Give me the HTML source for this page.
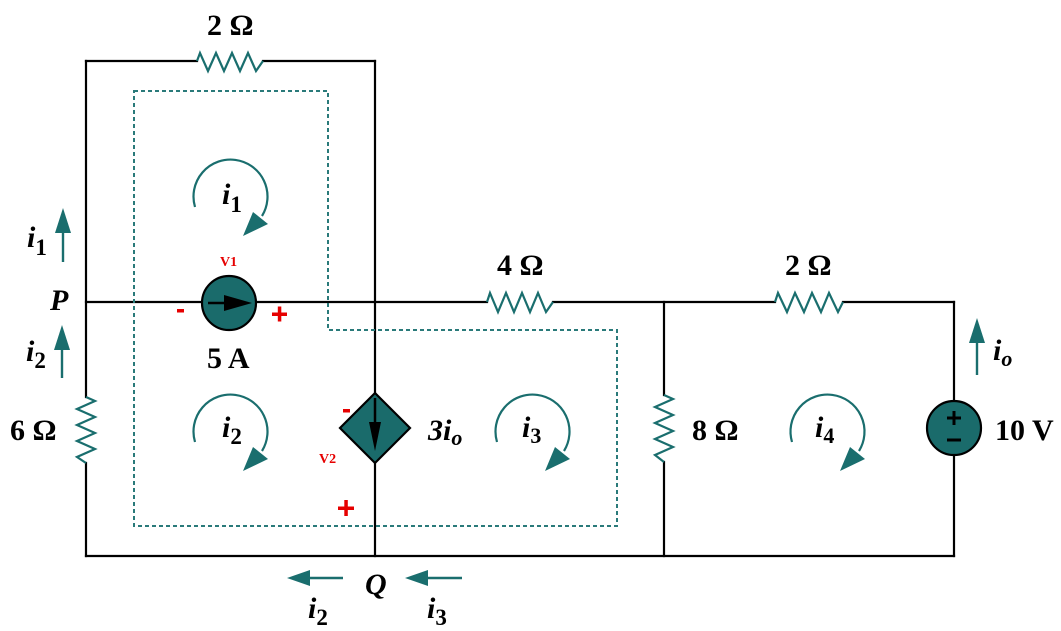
<!DOCTYPE html>
<html>
<head>
<meta charset="utf-8">
<style>
html,body{margin:0;padding:0;background:#fff;}
svg{display:block;}
text{font-family:"Liberation Serif",serif;font-weight:bold;}
</style>
</head>
<body>
<svg width="1061" height="631" viewBox="0 0 1061 631" xmlns="http://www.w3.org/2000/svg">
<!-- wires -->
<g stroke="#000" stroke-width="2.2" fill="none" stroke-linecap="square">
  <line x1="86" y1="61" x2="197" y2="61"/>
  <line x1="263" y1="61" x2="375" y2="61"/>
  <line x1="86" y1="61" x2="86" y2="397"/>
  <line x1="86" y1="463" x2="86" y2="556"/>
  <line x1="86" y1="302" x2="487" y2="302"/>
  <line x1="553" y1="302" x2="775" y2="302"/>
  <line x1="843" y1="302" x2="954" y2="302"/>
  <line x1="375" y1="61" x2="375" y2="393"/>
  <line x1="375" y1="463" x2="375" y2="556"/>
  <line x1="86" y1="556" x2="954" y2="556"/>
  <line x1="664" y1="302" x2="664" y2="395"/>
  <line x1="664" y1="462" x2="664" y2="556"/>
  <line x1="954" y1="302" x2="954" y2="556"/>
</g>
<!-- dotted supermesh -->
<path d="M134 91 H328 V330 H617 V526 H134 Z" fill="none" stroke="#2a7a7a" stroke-width="2" stroke-dasharray="4 3"/>
<!-- resistors -->
<g stroke="#1a6e6e" stroke-width="2.2" fill="none" stroke-linejoin="miter">
  <polyline points="197,61 200,53 208,71 216,53 224,71 232,53 240,71 248,53 256,71 263,61"/>
  <polyline points="487,302 490,293 498,312 506,293 514,312 522,293 530,312 538,293 546,312 553,302"/>
  <polyline points="775,302 778,293 787,312 795,293 804,312 812,293 821,312 829,293 838,312 843,302"/>
  <polyline points="86,397 95,401 77,409 95,417 77,425 95,433 77,441 95,449 77,457 86,463"/>
  <polyline points="664,395 673,399 655,407 673,415 655,423 673,431 655,439 673,447 655,455 664,462"/>
</g>
<!-- 5A source -->
<circle cx="229" cy="303" r="27" fill="#1a6b6b" stroke="#000" stroke-width="2.2"/>
<line x1="208" y1="303" x2="228" y2="303" stroke="#000" stroke-width="2.5"/>
<polygon points="224,295 252,303 224,311" fill="#000"/>
<!-- dependent source -->
<polygon points="375,393 410,428 375,463 340,428" fill="#1a6b6b" stroke="#000" stroke-width="2.2"/>
<line x1="375" y1="398" x2="375" y2="425" stroke="#000" stroke-width="2.5"/>
<polygon points="369,422 381,422 375,451" fill="#000"/>
<!-- 10V source -->
<circle cx="954" cy="428" r="27" fill="#1a6b6b" stroke="#000" stroke-width="2.2"/>
<line x1="947" y1="418" x2="961" y2="418" stroke="#000" stroke-width="3"/>
<line x1="954" y1="411" x2="954" y2="425" stroke="#000" stroke-width="3"/>
<line x1="947" y1="440" x2="961" y2="440" stroke="#000" stroke-width="3"/>
<!-- straight current arrows -->
<g stroke="#1a6e6e" stroke-width="2.4" fill="#1a6e6e">
  <line x1="63" y1="262" x2="63" y2="228"/>
  <polygon points="55,233 71,233 63,208" stroke="none"/>
  <line x1="62" y1="378" x2="62" y2="345"/>
  <polygon points="54,350 70,350 62,325" stroke="none"/>
  <line x1="977" y1="375" x2="977" y2="338"/>
  <polygon points="969,343 985,343 977,318" stroke="none"/>
  <line x1="343" y1="578" x2="305" y2="578"/>
  <polygon points="310,570 310,586 287,578" stroke="none"/>
  <line x1="462" y1="578" x2="423" y2="578"/>
  <polygon points="428,570 428,586 405,578" stroke="none"/>
</g>
<!-- loop arrows -->
<g stroke="#1a6e6e" stroke-width="2.2" fill="none">
  <path d="M195 207 A37 37 0 1 1 262 216"/>
  <path d="M195 442 A37 37 0 1 1 262 451"/>
  <path d="M497 442 A37 37 0 1 1 564 451"/>
  <path d="M792 442 A37 37 0 1 1 859 451"/>
</g>
<g fill="#1a6e6e">
  <polygon points="253,212 268,224 243,236"/>
  <polygon points="253,447 268,459 243,471"/>
  <polygon points="555,447 570,459 545,471"/>
  <polygon points="850,447 865,459 840,471"/>
</g>
<!-- labels -->
<g fill="#000" font-size="30">
  <text x="207" y="35">2 Ω</text>
  <text x="497" y="275">4 Ω</text>
  <text x="785" y="275">2 Ω</text>
  <text x="10" y="440">6 Ω</text>
  <text x="692" y="440">8 Ω</text>
  <text x="995" y="440">10 V</text>
  <text x="207" y="368">5 A</text>
  <text x="50" y="310" font-style="italic">P</text>
  <text x="365" y="594" font-style="italic">Q</text>
  <text x="428" y="440"><tspan font-style="italic">3i</tspan><tspan font-size="22" font-style="italic" dy="5">o</tspan></text>
  <text x="27" y="247"><tspan font-style="italic">i</tspan><tspan font-size="23" dy="8">1</tspan></text>
  <text x="26" y="361"><tspan font-style="italic">i</tspan><tspan font-size="23" dy="7">2</tspan></text>
  <text x="308" y="618"><tspan font-style="italic">i</tspan><tspan font-size="23" dy="7">2</tspan></text>
  <text x="427" y="618"><tspan font-style="italic">i</tspan><tspan font-size="23" dy="7">3</tspan></text>
  <text x="993" y="360"><tspan font-style="italic">i</tspan><tspan font-size="22" font-style="italic" dy="6">o</tspan></text>
  <text x="222" y="204"><tspan font-style="italic">i</tspan><tspan font-size="23" dy="8">1</tspan></text>
  <text x="222" y="437"><tspan font-style="italic">i</tspan><tspan font-size="23" dy="7">2</tspan></text>
  <text x="522" y="437"><tspan font-style="italic">i</tspan><tspan font-size="22" dy="6">3</tspan></text>
  <text x="815" y="437"><tspan font-style="italic">i</tspan><tspan font-size="22" dy="6">4</tspan></text>
</g>
<!-- red polarity labels -->
<g fill="#e60000">
  <text x="220" y="266" font-size="14">V1</text>
  <text x="319" y="463" font-size="14">V2</text>
  <rect x="177" y="309" width="7" height="3.5"/>
  <rect x="343" y="409" width="7" height="3.5"/>
  <rect x="272" y="312.5" width="15" height="3.5"/>
  <rect x="277.8" y="306.5" width="3.5" height="15"/>
  <rect x="338" y="506.5" width="16" height="3.5"/>
  <rect x="344.3" y="500" width="3.5" height="16"/>
</g>
</svg>
</body>
</html>
